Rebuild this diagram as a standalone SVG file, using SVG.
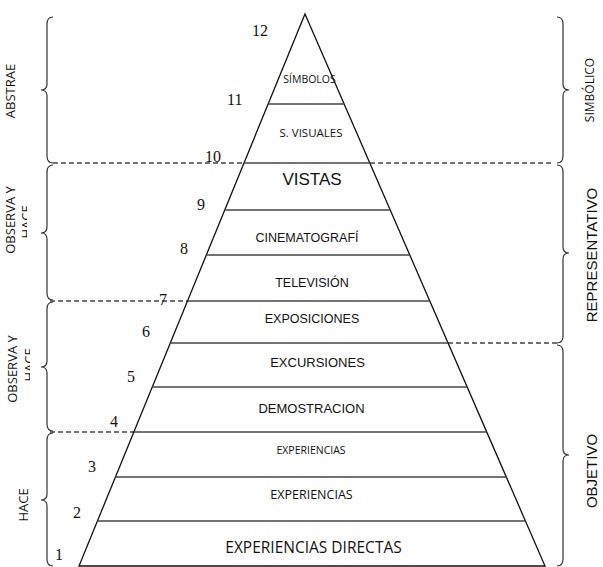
<svg xmlns="http://www.w3.org/2000/svg" width="603" height="567" viewBox="0 0 603 567">
<style>
.edge{fill:none;stroke:#111;stroke-width:1.3}
.band{stroke:#444;stroke-width:1.6}
.dash{fill:none;stroke:#444;stroke-width:1.3;stroke-dasharray:5 3}
.brace{fill:none;stroke:#333;stroke-width:1.2}
.num{font-family:"Liberation Serif","Times New Roman",serif;font-size:16px;fill:#111}
.ar{font-family:"Liberation Sans",Arial,sans-serif;fill:#111;text-anchor:middle}
.os{font-family:"Open Sans","Noto Sans",sans-serif;fill:#111;text-anchor:middle}
</style>
<defs>
<clipPath id="c1"><rect x="0" y="150" width="27" height="150"/></clipPath>
<clipPath id="c2"><rect x="0" y="300" width="30" height="130"/></clipPath>
</defs>
<rect width="603" height="567" fill="#fff"/>

<g id="connectors">
<line class="dash" x1="53" y1="163" x2="244" y2="163"/>
<line class="dash" x1="370" y1="163" x2="553" y2="163"/>
<line class="dash" x1="50" y1="301" x2="187.5" y2="301"/>
<line class="dash" x1="448" y1="343" x2="558" y2="343"/>
<line class="dash" x1="50" y1="432" x2="134" y2="432"/>
</g>

<g id="pyramid">
<polygon class="edge" points="305,14 545,566 79,566"/>
<line class="band" x1="268.2" y1="104" x2="344.1" y2="104"/>
<line class="band" x1="244" y1="163" x2="369.8" y2="163"/>
<line class="band" x1="224.8" y1="210" x2="390.2" y2="210"/>
<line class="band" x1="206.3" y1="255" x2="409.8" y2="255"/>
<line class="band" x1="187.5" y1="301" x2="429.8" y2="301"/>
<line class="band" x1="170.3" y1="343" x2="448" y2="343"/>
<line class="band" x1="152.3" y1="387" x2="467.2" y2="387"/>
<line class="band" x1="133.9" y1="432" x2="486.7" y2="432"/>
<line class="band" x1="115.4" y1="477" x2="506.3" y2="477"/>
<line class="band" x1="97.4" y1="521" x2="525.4" y2="521"/>
</g>

<g id="layer-simbolos"><text class="os" x="309.5" y="83" font-size="10.5">SÍMBOLOS</text></g>
<g id="layer-svisuales"><text class="os" x="311" y="137" font-size="11.5">S. VISUALES</text></g>
<g id="layer-vistas"><text class="ar" x="312" y="185" font-size="17">VISTAS</text></g>
<g id="layer-cine"><text class="ar" x="307" y="242" font-size="12.5">CINEMATOGRAFÍ</text></g>
<g id="layer-tv"><text class="ar" x="312" y="287" font-size="12.5">TELEVISIÓN</text></g>
<g id="layer-expo"><text class="ar" x="312" y="323" font-size="12.5">EXPOSICIONES</text></g>
<g id="layer-excur"><text class="ar" x="317.5" y="367" font-size="13">EXCURSIONES</text></g>
<g id="layer-demo"><text class="ar" x="311.5" y="413" font-size="13">DEMOSTRACION</text></g>
<g id="layer-exp2"><text class="os" x="311" y="454" font-size="10.5">EXPERIENCIAS</text></g>
<g id="layer-exp1"><text class="os" x="311.5" y="499" font-size="12.5">EXPERIENCIAS</text></g>
<g id="layer-expdir"><text class="os" x="313.5" y="553" font-size="15.5">EXPERIENCIAS DIRECTAS</text></g>

<g id="numbers">
<text class="num" x="252" y="36">12</text>
<text class="num" x="227" y="105">11</text>
<text class="num" x="205" y="162">10</text>
<text class="num" x="197" y="210">9</text>
<text class="num" x="180" y="254">8</text>
<text class="num" x="159" y="305">7</text>
<text class="num" x="142" y="337">6</text>
<text class="num" x="127" y="382">5</text>
<text class="num" x="110" y="427">4</text>
<text class="num" x="88" y="472">3</text>
<text class="num" x="73" y="518">2</text>
<text class="num" x="55" y="560">1</text>
</g>

<g id="brace-abstrae">
<path class="brace" d="M53,17 Q47,17 47,24 L47,84 Q47,90 41,90 Q47,90 47,96 L47,156 Q47,163 53,163"/>
<text class="os" font-size="13" transform="translate(14.5,91) rotate(-90)">ABSTRAE</text>
</g>
<g id="brace-observa1">
<path class="brace" d="M53,165 Q47,165 47,172 L47,227 Q47,233 41,233 Q47,233 47,239 L47,293 Q47,300 53,300"/>
<text class="os" font-size="13" transform="translate(14.5,220) rotate(-90)">OBSERVA Y</text>
<g clip-path="url(#c1)"><text class="os" font-size="13" transform="translate(31,222) rotate(-90)">HACE</text></g>
</g>
<g id="brace-observa2">
<path class="brace" d="M53,302 Q47,302 47,309 L47,361 Q47,367 41,367 Q47,367 47,373 L47,424 Q47,431 53,431"/>
<text class="os" font-size="13" transform="translate(17,369) rotate(-90)">OBSERVA Y</text>
<g clip-path="url(#c2)"><text class="os" font-size="13" transform="translate(34,365) rotate(-90)">HACE</text></g>
</g>
<g id="brace-hace">
<path class="brace" d="M53,433 Q47,433 47,440 L47,494 Q47,500 41,500 Q47,500 47,506 L47,559 Q47,566 53,566"/>
<text class="os" font-size="13" transform="translate(28,505) rotate(-90)">HACE</text>
</g>

<g id="brace-simbolico">
<path class="brace" d="M557,17 Q563,17 563,24 L563,84 Q563,90 569,90 Q563,90 563,96 L563,156 Q563,163 557,163"/>
<text class="os" font-size="12" transform="translate(594,90) rotate(-90)">SIMBÓLICO</text>
</g>
<g id="brace-representativo">
<path class="brace" d="M557,165 Q563,165 563,172 L563,247 Q563,253 569,253 Q563,253 563,259 L563,336 Q563,343 557,343"/>
<text class="ar" font-size="15" transform="translate(597,255) rotate(-90)">REPRESENTATIVO</text>
</g>
<g id="brace-objetivo">
<path class="brace" d="M557,345 Q563,345 563,352 L563,449 Q563,455 569,455 Q563,455 563,461 L563,559 Q563,566 557,566"/>
<text class="ar" font-size="15" transform="translate(597,471) rotate(-90)">OBJETIVO</text>
</g>
</svg>
